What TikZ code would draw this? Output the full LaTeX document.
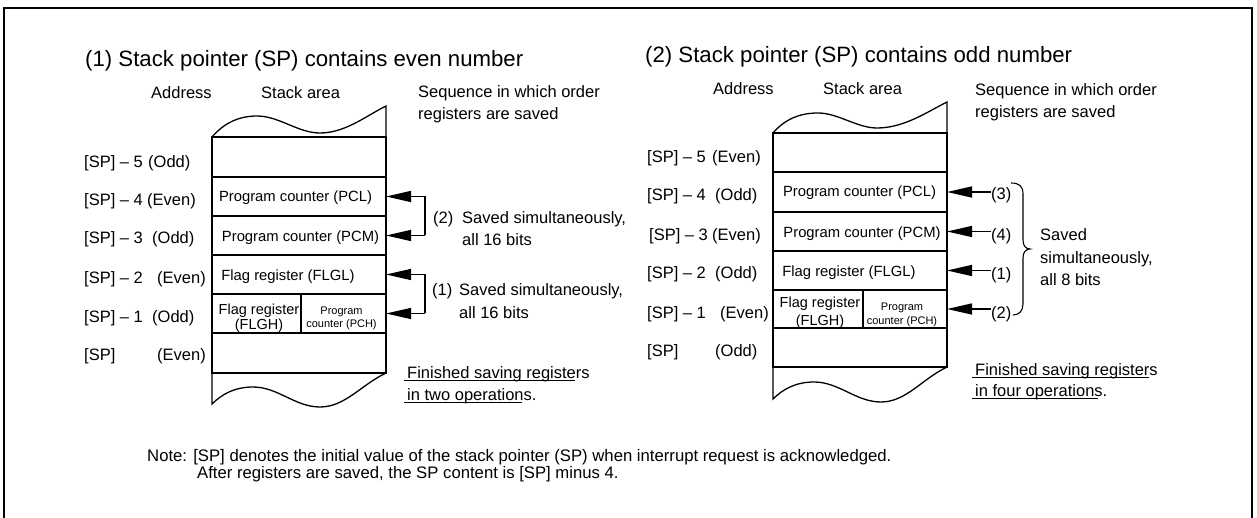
\documentclass[tikz,border=0pt]{standalone}
\usepackage{fontspec}
\setmainfont{Liberation Sans}
\usetikzlibrary{arrows.meta}
\newcommand{\fsz}[1]{\fontsize{#1}{#1}\selectfont}
\begin{document}
\begin{tikzpicture}[x=1pt,y=-1pt,
  lbl/.style={anchor=base west,inner sep=0pt,font=\fsz{16.5}},
  ttl/.style={anchor=base west,inner sep=0pt,font=\fsz{22.2}},
  cell/.style={draw,line width=1.3pt,minimum width=174pt,inner sep=0pt,outer sep=0pt},
  ctext/.style={anchor=base,inner sep=0pt,font=\fsz{14.8}},
  small/.style={anchor=base,inner sep=0pt,font=\fsz{11}},
  arr/.style={line width=1.3pt,-{Triangle[length=25pt,width=11pt]}},
  ln/.style={line width=1.3pt},
  uline/.style={line width=1.2pt},
  notet/.style={anchor=base west,inner sep=0pt,font=\fsz{16.7}},
]
\useasboundingbox (0,0) rectangle (1257,518);
% outer frame (open at the bottom)
\draw[line width=2pt] (4.3,520) -- (4.3,8.3) -- (1252,8.3) -- (1252,520);

% ---------------- left diagram ----------------
\node[ttl] (t1) at (85,67) {(1) Stack pointer (SP) contains even number};
\node[lbl] (ad1) at (151,99) {Address};
\node[lbl] (sa1) at (261,99) {Stack area};
\node[lbl] (sq1a) at (418,98) {Sequence in which order};
\node[lbl] (sq1b) at (418,120) {registers are saved};

\node[cell,minimum height=40pt] (L5) at (299,157) {};
\node[cell,minimum height=39pt] (L4) at (299,196.5) {};
\node[cell,minimum height=39pt] (L3) at (299,235.5) {};
\node[cell,minimum height=39pt] (L2) at (299,274.5) {};
\node[cell,minimum width=89pt,minimum height=39pt] (L1a) at (256.5,313.5) {};
\node[cell,minimum width=85pt,minimum height=39pt] (L1b) at (343.5,313.5) {};
\node[cell,minimum height=40pt] (L0) at (299,353) {};

\draw[ln] (L5.north west) .. controls +(12,-14) and +(-18,0) .. ++(45,-21)
  .. controls +(22,0) and +(-22,0) .. ++(63,17)
  .. controls +(25,0) and +(-20,10) .. ++(66,-27) -- (L5.north east);
\draw[ln] (L0.south west) -- ++(0,31)
  .. controls +(10,-10) and +(-18,0) .. ++(41,-17)
  .. controls +(25,0) and +(-25,0) .. ++(67,20)
  .. controls +(25,0) and +(-25,12) .. (L0.south east);

\node[ctext] (L4t) at (295.5,202) {Program counter (PCL)};
\node[ctext] (L3t) at (300.5,242) {Program counter (PCM)};
\node[ctext] (L2t) at (288,281) {Flag register (FLGL)};
\node[ctext,font=\fsz{14.5}] (L1at) at (259,314) {Flag register};
\node[ctext,font=\fsz{14.5}] (L1au) at (259,330) {(FLGH)};
\node[small] (L1bt) at (341.5,314) {Program};
\node[small] (L1bu) at (341.5,327) {counter (PCH)};

% address labels (left)
\node[lbl] (aL5) at (84,168) {[SP] \textendash{} 5};  \node[lbl] (pL5) at (148,168) {(Odd)};
\node[lbl] (aL4) at (84,206) {[SP] \textendash{} 4};  \node[lbl] (pL4) at (147,206) {(Even)};
\node[lbl] (aL3) at (84,244) {[SP] \textendash{} 3};  \node[lbl] (pL3) at (152,244) {(Odd)};
\node[lbl] (aL2) at (84,284) {[SP] \textendash{} 2};  \node[lbl] (pL2) at (157,284) {(Even)};
\node[lbl] (aL1) at (84,323) {[SP] \textendash{} 1};  \node[lbl] (pL1) at (152,323) {(Odd)};
\node[lbl] (aL0) at (84,360) {[SP]};                  \node[lbl] (pL0) at (157,360) {(Even)};

% brackets and arrows (left)
\coordinate (c2a) at (425,196.5);
\coordinate (c2b) at (425,235.5);
\coordinate (c1a) at (425,274.5);
\coordinate (c1b) at (425,313.5);
\draw[ln] (c2a) -- (c2b);
\draw[ln] (c1a) -- (c1b);
\draw[arr] (c2a) -- (L4.east);
\draw[arr] (c2b) -- (L3.east);
\draw[arr] (c1a) -- (L2.east);
\draw[arr] (c1b) -- (L1b.east);
\node[lbl] (g2n) at (433,224) {(2)};
\node[lbl] (g2a) at (462,224) {Saved simultaneously,};
\node[lbl] (g2b) at (462,246) {all 16 bits};
\node[lbl] (g1n) at (432,296) {(1)};
\node[lbl] (g1a) at (459,296) {Saved simultaneously,};
\node[lbl] (g1b) at (459,318) {all 16 bits};

\node[lbl] (f1a) at (407,378) {Finished saving registers};
\node[lbl] (f1b) at (407,400) {in two operations.};
\draw[uline] (404,380.5) -- (575,380.5);
\draw[uline] (404,402.5) -- (522,402.5);

% ---------------- right diagram ----------------
\node[ttl] (t2) at (645,63) {(2) Stack pointer (SP) contains odd number};
\node[lbl] (ad2) at (713,95) {Address};
\node[lbl] (sa2) at (823,95) {Stack area};
\node[lbl] (sq2a) at (975,96) {Sequence in which order};
\node[lbl] (sq2b) at (975,118) {registers are saved};

\node[cell,minimum height=39pt] (R5) at (860,152.5) {};
\node[cell,minimum height=40pt] (R4) at (860,192) {};
\node[cell,minimum height=39pt] (R3) at (860,231.5) {};
\node[cell,minimum height=39pt] (R2) at (860,270.5) {};
\node[cell,minimum width=90pt,minimum height=38pt] (R1a) at (818,309) {};
\node[cell,minimum width=84pt,minimum height=38pt] (R1b) at (905,309) {};
\node[cell,minimum height=39pt] (R0) at (860,347.5) {};

\draw[ln] (R5.north west) .. controls +(12,-14) and +(-18,0) .. ++(45,-20)
  .. controls +(20,0) and +(-20,0) .. ++(59,15)
  .. controls +(27,0) and +(-20,10) .. ++(70,-26) -- (R5.north east);
\draw[ln] (R0.south west) -- ++(0,32)
  .. controls +(10,-10) and +(-18,0) .. ++(41,-17)
  .. controls +(25,0) and +(-25,0) .. ++(67,20)
  .. controls +(25,0) and +(-25,12) .. (R0.south east);

\node[ctext] (R4t) at (859.5,197) {Program counter (PCL)};
\node[ctext] (R3t) at (862,237.5) {Program counter (PCM)};
\node[ctext] (R2t) at (849,277) {Flag register (FLGL)};
\node[ctext,font=\fsz{14.5}] (R1at) at (820,308) {Flag register};
\node[ctext,font=\fsz{14.5}] (R1au) at (820,325.5) {(FLGH)};
\node[small] (R1bt) at (902,311) {Program};
\node[small] (R1bu) at (902,324) {counter (PCH)};

% address labels (right)
\node[lbl] (aR5) at (647,163) {[SP] \textendash{} 5};  \node[lbl] (pR5) at (712,163) {(Even)};
\node[lbl] (aR4) at (647,201) {[SP] \textendash{} 4};  \node[lbl] (pR4) at (715,201) {(Odd)};
\node[lbl] (aR3) at (649,241) {[SP] \textendash{} 3};  \node[lbl] (pR3) at (712,241) {(Even)};
\node[lbl] (aR2) at (647,279) {[SP] \textendash{} 2};  \node[lbl] (pR2) at (715,279) {(Odd)};
\node[lbl] (aR1) at (647,318) {[SP] \textendash{} 1};  \node[lbl] (pR1) at (720,318) {(Even)};
\node[lbl] (aR0) at (647,356) {[SP]};                  \node[lbl] (pR0) at (715,356) {(Odd)};

% order labels and arrows (right)
\node[lbl] (o3) at (991,200) {(3)};
\node[lbl] (o4) at (991,241) {(4)};
\node[lbl] (o1) at (991,280) {(1)};
\node[lbl] (o2) at (991,318) {(2)};
\draw[arr] ([xshift=-0.5pt]o3.west |- R4.east) -- (R4.east);
\draw[arr] ([xshift=-0.5pt]o4.west |- R3.east) -- (R3.east);
\draw[arr] ([xshift=-0.5pt]o1.west |- R2.east) -- (R2.east);
\draw[arr] ([xshift=-0.5pt]o2.west |- R1b.east) -- (R1b.east);

% curly brace
\draw[line width=1.1pt] (1011,183) .. controls (1019,183) and (1023,186) .. (1023,194)
  -- (1023,240) .. controls (1023,246) and (1026,249) .. (1030,249)
  .. controls (1026,249) and (1023,252) .. (1023,258)
  -- (1023,304) .. controls (1023,311) and (1019,315) .. (1013,315);
\node[lbl] (s1) at (1040,241) {Saved};
\node[lbl] (s2) at (1040,264) {simultaneously,};
\node[lbl] (s3) at (1040,286) {all 8 bits};

\node[lbl] (f2a) at (975,375) {Finished saving registers};
\node[lbl] (f2b) at (975,396) {in four operations.};
\draw[uline] (972,377.5) -- (1149,377.5);
\draw[uline] (972,398.5) -- (1098,398.5);

% note
\node[notet] (n1) at (147,461) {Note: [SP] denotes the initial value of the stack pointer (SP) when interrupt request is acknowledged.};
\node[notet] (n2) at (197,478) {After registers are saved, the SP content is [SP] minus 4.};
\end{tikzpicture}
\end{document}
